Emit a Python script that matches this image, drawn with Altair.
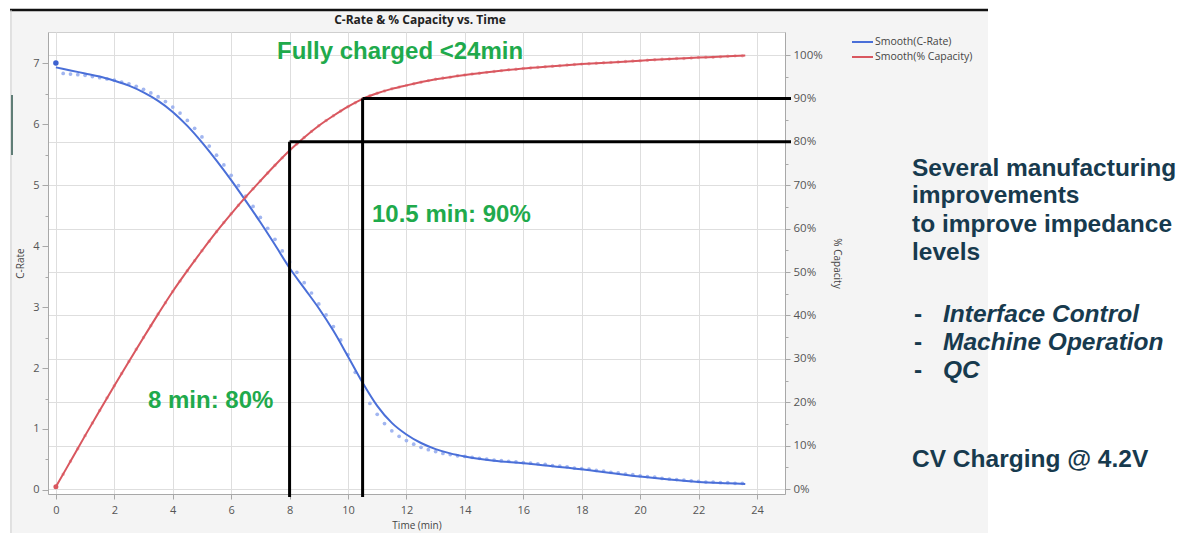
import altair as alt
import pandas as pd

# ---------------- data ----------------
# smoothed C-Rate curve (left axis)
crate_t = [0, 0.5, 1, 1.5, 2, 2.5, 3, 3.5, 4, 4.5, 5, 5.5, 6, 6.5, 7, 7.5, 8, 8.5, 9, 9.5,
           10, 10.5, 11, 11.5, 12, 12.5, 13, 13.5, 14, 15, 16, 17, 18, 19, 20, 21, 22, 23, 23.6]
crate_smooth = [6.93, 6.88, 6.83, 6.78, 6.71, 6.63, 6.52, 6.38, 6.20, 5.97, 5.70, 5.40, 5.08, 4.74,
                4.39, 4.02, 3.64, 3.31, 2.98, 2.61, 2.19, 1.76, 1.38, 1.10, 0.91, 0.77, 0.67, 0.60,
                0.55, 0.48, 0.44, 0.39, 0.34, 0.28, 0.22, 0.17, 0.13, 0.11, 0.10]

# smoothed % Capacity curve (right axis)
cap_t = [0, 0.5, 1, 1.5, 2, 2.5, 3, 3.5, 4, 4.5, 5, 5.5, 6, 6.5, 7, 7.5, 8, 8.5, 9, 9.5, 10,
         10.5, 11, 11.5, 12, 13, 14, 15, 16, 17, 18, 19, 20, 21, 22, 23, 23.6]
cap_smooth = [0.5, 6.4, 12.3, 18.1, 23.8, 29.4, 34.9, 40.3, 45.5, 50.3, 54.9, 59.3, 63.4, 67.3,
              71.0, 74.6, 78.0, 81.0, 83.7, 86.0, 88.1, 89.9, 91.2, 92.2, 93.0, 94.4, 95.4, 96.2,
              96.9, 97.4, 97.9, 98.3, 98.7, 99.1, 99.4, 99.7, 99.9]

# raw measurements, one every 0.25 min
RAW_STEP = 0.25
crate_raw = [7.00, 6.83, 6.82, 6.81, 6.80, 6.78, 6.76, 6.74, 6.72, 6.69, 6.66, 6.62, 6.57, 6.51,
             6.45, 6.37, 6.28, 6.18, 6.06, 5.93, 5.79, 5.64, 5.49, 5.33, 5.16, 4.99, 4.82, 4.65,
             4.47, 4.29, 4.11, 3.92, 3.74, 3.57, 3.40, 3.23, 3.05, 2.87, 2.68, 2.46, 2.22, 1.93,
             1.64, 1.42, 1.24, 1.09, 0.97, 0.88, 0.81, 0.75, 0.70, 0.66, 0.63, 0.60, 0.58, 0.56,
             0.55, 0.535, 0.52, 0.505, 0.49, 0.48, 0.47, 0.46, 0.45, 0.44, 0.43, 0.42, 0.40, 0.39,
             0.38, 0.36, 0.35, 0.34, 0.32, 0.31, 0.29, 0.28, 0.26, 0.25, 0.23, 0.22, 0.21, 0.19,
             0.18, 0.17, 0.16, 0.15, 0.14, 0.13, 0.13, 0.12, 0.12, 0.11, 0.11]
cap_raw = [0.5, 3.4, 6.4, 9.3, 12.3, 15.2, 18.1, 21.0, 23.8, 26.6, 29.4, 32.2, 34.9, 37.6, 40.3,
           42.9, 45.5, 47.9, 50.3, 52.6, 54.9, 57.1, 59.3, 61.4, 63.4, 65.4, 67.3, 69.2, 71.0,
           72.8, 74.6, 76.3, 78.0, 79.5, 81.0, 82.4, 83.7, 84.9, 86.0, 87.1, 88.1, 89.0, 89.9,
           90.6, 91.2, 91.7, 92.2, 92.6, 93.0, 93.4, 93.7, 94.1, 94.4, 94.7, 94.9, 95.2, 95.4,
           95.6, 95.8, 96.0, 96.2, 96.4, 96.6, 96.7, 96.9, 97.0, 97.2, 97.3, 97.4, 97.5, 97.7,
           97.8, 97.9, 98.0, 98.1, 98.2, 98.3, 98.4, 98.5, 98.6, 98.7, 98.8, 98.9, 99.0, 99.1,
           99.2, 99.2, 99.3, 99.4, 99.5, 99.5, 99.6, 99.7, 99.8, 99.8]

# reference markers: time to reach 80% / 90%
ref_t = [8, 10.5]
ref_pct = [80, 90]

x_ticks = list(range(0, 25, 2))
crate_ticks = [i * 0.5 for i in range(15)]
cap_ticks = list(range(0, 105, 5))

legend_labels = ["Smooth(C-Rate)", "Smooth(% Capacity)"]
title_text = "C-Rate & % Capacity vs. Time"
notes_main = ["Several manufacturing", "improvements", "to improve impedance", "levels"]
notes_items = ["Interface Control", "Machine Operation", "QC"]
note_cv = "CV Charging @ 4.2V"

# ---------------- tables ----------------
crate_line_df = pd.DataFrame({"t": crate_t, "v": crate_smooth})
cap_line_df = pd.DataFrame({"t": cap_t, "v": cap_smooth})
crate_raw_df = pd.DataFrame({"t": [i * RAW_STEP for i in range(len(crate_raw))], "v": crate_raw})
cap_raw_df = pd.DataFrame({"t": [i * RAW_STEP for i in range(len(cap_raw))], "v": cap_raw})
ref_df = pd.DataFrame({"t": ref_t, "v": ref_pct})
one = pd.DataFrame({"k": [0]})

# ---------------- style ----------------
W, H = 737, 462
BLUE = "#4a6fd8"
BLUE_DOT = "#98aeee"
RED = "#d9575f"
RED_DOT = "#e9a0a6"
GREEN = "#1faa4c"
NAVY = "#173a4e"
AXIS_FONT = "Open Sans"
TXT_FONT = "Liberation Sans"
GRID = "#dedede"
DOMAIN = "#a8a8a8"

x_enc = alt.X(
    "t:Q",
    scale=alt.Scale(domain=[-0.27, 24.96], nice=False, zero=False),
    axis=alt.Axis(values=x_ticks, title="Time (min)", grid=True, gridColor=GRID,
                  domainColor=DOMAIN, tickColor=DOMAIN, tickSize=5, labelFont=AXIS_FONT,
                  labelFontSize=11, labelColor="#555555", labelPadding=5,
                  titleFont=AXIS_FONT, titleFontSize=10, titleFontWeight="normal",
                  titleColor="#444444", titlePadding=5),
)

left_axis = alt.Axis(
    orient="left", values=crate_ticks, title="C-Rate", grid=False,
    labelExpr="datum.value % 1 == 0 ? format(datum.value, 'd') : ''",
    tickSize={"condition": {"test": "datum.value % 1 == 0", "value": 6}, "value": 3},
    domainColor=DOMAIN, tickColor=DOMAIN, labelFont=AXIS_FONT, labelFontSize=11,
    labelColor="#555555", labelPadding=3, titleFont=AXIS_FONT, titleFontSize=10,
    titleFontWeight="normal", titleColor="#444444", titlePadding=7,
)
right_axis = alt.Axis(
    orient="right", values=cap_ticks, title="% Capacity", grid=True, gridColor=GRID,
    gridOpacity={"condition": {"test": "datum.value % 10 == 0", "value": 1}, "value": 0},
    labelExpr="datum.value % 10 == 0 ? datum.value + '%' : ''",
    tickSize={"condition": {"test": "datum.value % 10 == 0", "value": 5}, "value": 3},
    domainColor=DOMAIN, tickColor=DOMAIN, labelFont=AXIS_FONT, labelFontSize=11.5,
    labelColor="#555555", labelPadding=3, titleFont=AXIS_FONT, titleFontSize=10,
    titleFontWeight="normal", titleColor="#444444", titlePadding=9,
)

y_left = alt.Y("v:Q", scale=alt.Scale(domain=[-0.066, 7.51], nice=False, zero=False), axis=left_axis)
y_right = alt.Y("v:Q", scale=alt.Scale(domain=[-1.15, 105.3], nice=False, zero=False), axis=right_axis)

# ---------------- C-Rate layers ----------------
blue_dots = alt.Chart(crate_raw_df).mark_circle(size=14, color=BLUE_DOT, opacity=0.9).encode(x=x_enc, y=y_left)
blue_line = alt.Chart(crate_line_df).mark_line(color=BLUE, strokeWidth=2, interpolate="monotone").encode(x=x_enc, y=y_left)
blue_first = alt.Chart(crate_raw_df.head(1)).mark_circle(size=30, color="#3d62d0", opacity=1).encode(x=x_enc, y=y_left)
left_group = alt.layer(blue_dots, blue_line, blue_first)

# ---------------- Capacity layers ----------------
red_dots = alt.Chart(cap_raw_df).mark_circle(size=12, color=RED_DOT, opacity=0.85).encode(x=x_enc, y=y_right)
red_line = alt.Chart(cap_line_df).mark_line(color=RED, strokeWidth=2, interpolate="monotone").encode(x=x_enc, y=y_right)
red_first = alt.Chart(cap_raw_df.head(1)).mark_circle(size=25, color=RED, opacity=1).encode(x=x_enc, y=y_right)
vrules = alt.Chart(ref_df).mark_rule(color="black", strokeWidth=3).encode(x=x_enc, y=y_right, y2=alt.value(H + 3))
hrules = alt.Chart(ref_df).mark_rule(color="black", strokeWidth=3).encode(x=x_enc, y=y_right, x2=alt.value(W + 6))
right_group = alt.layer(red_dots, red_line, red_first, vrules, hrules)

# ---------------- decorations (screenshot frame) ----------------
def rect(x, x2, y, y2, color):
    return alt.Chart(one).mark_rect(color=color).encode(
        x=alt.value(x), x2=alt.value(x2), y=alt.value(y), y2=alt.value(y2))

def rule(x, x2, y, y2, color, w):
    return alt.Chart(one).mark_rule(color=color, strokeWidth=w).encode(
        x=alt.value(x), x2=alt.value(x2), y=alt.value(y), y2=alt.value(y2))

def text(s, x, y, size, color, font, weight="normal", style="normal", align="left", base="alphabetic"):
    return alt.Chart(one).mark_text(text=s, fontSize=size, color=color, font=font, fontWeight=weight,
                                    fontStyle=style, align=align, baseline=base).encode(
        x=alt.value(x), y=alt.value(y))

deco = [
    rect(940, 1135, -30, 510, "white"),
    rect(-50, -38, -30, 510, "white"),
    rect(-50, 1135, -30, -22, "white"),
    rule(-38, 940, -22, -22, "#111111", 2.5),
    rule(-37, -37, -22, 510, "#cdcdcd", 1),
    rule(-36, -36, 63, 123, "#5f7d76", 2),
]

texts = [
    text(title_text, 372, -12, 12, "#222222", AXIS_FONT, weight="bold", align="center", base="middle"),
    # legend
    rule(804, 825, 10, 10, BLUE, 2),
    rule(804, 825, 25, 25, RED, 2),
    text(legend_labels[0], 827, 10, 10.5, "#444444", AXIS_FONT, base="middle"),
    text(legend_labels[1], 827, 25, 10.5, "#444444", AXIS_FONT, base="middle"),
    # green annotations
    text("Fully charged <24min", 229, 27, 24, GREEN, TXT_FONT, weight="bold"),
    text("10.5 min: 90%", 324, 190, 24, GREEN, TXT_FONT, weight="bold"),
    text("8 min: 80%", 100, 376, 24, GREEN, TXT_FONT, weight="bold"),
]

note_y = [144, 171, 200, 228]
for s, y in zip(notes_main, note_y):
    texts.append(text(s, 864, y, 24.5, NAVY, TXT_FONT, weight="bold"))
item_y = [290, 318, 346]
for s, y in zip(notes_items, item_y):
    texts.append(text("-", 866, y, 24.5, NAVY, TXT_FONT, weight="bold"))
    texts.append(text(s, 895, y, 24.5, NAVY, TXT_FONT, weight="bold", style="italic"))
texts.append(text(note_cv, 864, 435, 24.5, NAVY, TXT_FONT, weight="bold"))

chart = alt.layer(*deco, left_group, right_group, *texts).resolve_scale(y="independent").properties(
    width=W, height=H,
    autosize=alt.AutoSizeParams(type="none"),
    padding={"left": 40, "top": 24, "right": 394, "bottom": 41},
).configure(background="#f4f4f4").configure_view(fill="white", stroke="#cfcfcf")

chart.save("out.html", embed_options={"renderer": "svg", "actions": False})
